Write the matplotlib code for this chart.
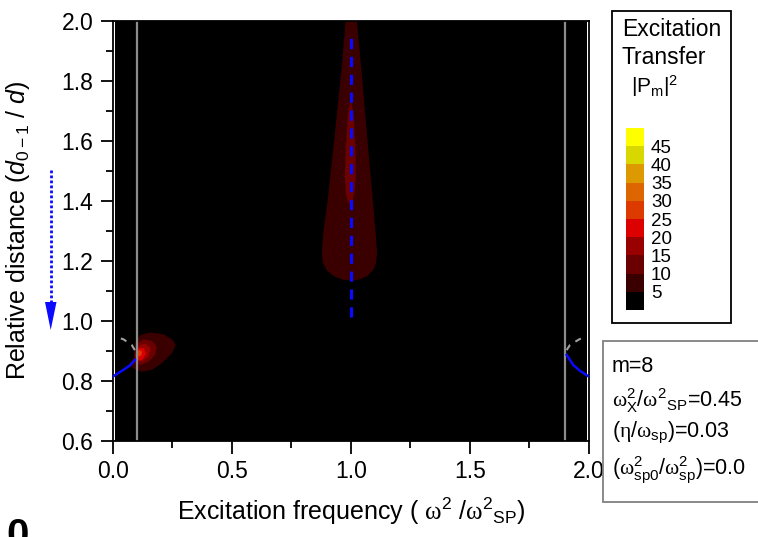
import matplotlib
matplotlib.use("Agg")
import matplotlib.pyplot as plt
import matplotlib.patches as mpatches
from matplotlib.lines import Line2D
from matplotlib.colors import ListedColormap, BoundaryNorm
from matplotlib.cm import ScalarMappable
from matplotlib.ticker import MultipleLocator

plt.rcParams['font.family'] = 'Liberation Sans'
plt.rcParams['mathtext.fontset'] = 'custom'
plt.rcParams['mathtext.rm'] = 'Liberation Sans'
plt.rcParams['mathtext.it'] = 'Liberation Sans:italic'
plt.rcParams['mathtext.bf'] = 'Liberation Sans:bold'
plt.rcParams['mathtext.sf'] = 'Liberation Serif'

# |P_m|^2 contour levels and their colours
levels = [0, 5, 10, 15, 20, 25, 30, 35, 40, 45, 50]
level_colors = ['#000000', '#3a0000', '#6a0000', '#990000', '#dd0000',
                '#dd3a00', '#dd6600', '#dd9900', '#d8d800', '#ffff00']
cbar_ticks = [5, 10, 15, 20, 25, 30, 35, 40, 45]

# tear-drop resonance at w^2/w_sp^2 = 1.0 (level 5-10)
tear_outer_x = [0.978, 0.962, 0.933, 0.903, 0.884, 0.878, 0.882, 0.898, 0.930, 0.965, 1.0,
                1.035, 1.068, 1.095, 1.106, 1.110, 1.104, 1.092, 1.067, 1.043, 1.025]
tear_outer_y = [2.0, 1.847, 1.625, 1.402, 1.292, 1.225, 1.195, 1.168, 1.148, 1.137, 1.133,
                1.137, 1.148, 1.170, 1.195, 1.225, 1.292, 1.402, 1.625, 1.847, 2.0]
# level 10-15
tear_inner_x = [0.999, 0.987, 0.978, 0.975, 0.978, 0.986, 0.995, 1.005, 1.015, 1.021, 1.019, 1.013]
tear_inner_y = [1.741, 1.68, 1.569, 1.48, 1.43, 1.40, 1.389, 1.395, 1.425, 1.48, 1.569, 1.68]

# small resonance near w^2 = 0.1, d = 0.88 (levels 5-10 ... 25-30)
spot1_x = [0.087, 0.094, 0.115, 0.157, 0.213, 0.252, 0.265, 0.248, 0.206, 0.164, 0.122, 0.087, 0.070]
spot1_y = [0.875, 0.925, 0.952, 0.961, 0.955, 0.936, 0.919, 0.891, 0.858, 0.836, 0.830, 0.841, 0.858]
spot2_x = [0.094, 0.101, 0.129, 0.164, 0.185, 0.178, 0.150, 0.115, 0.094]
spot2_y = [0.891, 0.924, 0.938, 0.933, 0.913, 0.886, 0.863, 0.852, 0.863]
spot3_x = [0.098, 0.108, 0.136, 0.160, 0.150, 0.122, 0.101]
spot3_y = [0.891, 0.916, 0.924, 0.908, 0.880, 0.863, 0.869]
spot4_x = [0.096, 0.108, 0.131, 0.140, 0.122, 0.101]
spot4_y = [0.886, 0.908, 0.908, 0.889, 0.869, 0.867]
spot5_x = [0.102, 0.110, 0.123, 0.120, 0.109]
spot5_y = [0.893, 0.902, 0.897, 0.885, 0.880]

# dispersion curves (left and right edges)
left_blue_x = [0.003, 0.045, 0.074, 0.093]
left_blue_y = [0.815, 0.836, 0.852, 0.869]
left_grey_x = [0.093, 0.080, 0.045, 0.019]
left_grey_y = [0.902, 0.919, 0.938, 0.945]
right_blue_x = [1.906, 1.934, 1.962, 1.995]
right_blue_y = [0.886, 0.852, 0.833, 0.816]
right_grey_x = [1.906, 1.920, 1.959, 1.987]
right_grey_y = [0.902, 0.919, 0.938, 0.947]

# vertical guide lines and the resonance line
guide_x = [0.1, 1.9]
res_x = [1.0, 1.0]
res_y = [1.013, 1.963]

W, H = 758, 537


def fx(px):
    return px / W


def fy(py):
    return 1 - py / H


fig = plt.figure(figsize=(W / 100, H / 100), dpi=100)
ax = fig.add_axes([fx(112.7), fy(440.7), 476.3 / W, 420 / H])
ax.set_xlim(0, 2.0)
ax.set_ylim(0.6, 2.0)

ax.axvspan(0.01, 1.99, color='black', lw=0, zorder=0)
ax.fill(tear_outer_x, tear_outer_y, color=level_colors[1], lw=0, zorder=1)
ax.fill(tear_inner_x, tear_inner_y, color=level_colors[2], lw=0, zorder=1)
for sx, sy, lev in [(spot1_x, spot1_y, 1), (spot2_x, spot2_y, 2), (spot3_x, spot3_y, 3),
                    (spot4_x, spot4_y, 4), (spot5_x, spot5_y, 5)]:
    ax.fill(sx, sy, color=level_colors[lev], lw=0, zorder=1)

for gx in guide_x:
    ax.axvline(gx, color='#8c8c8c', lw=1.6, zorder=2)

ax.plot(res_x, res_y, color='#0a0aff', lw=2.3, linestyle=(0, (3.2, 2.4)), zorder=3)
ax.plot(left_blue_x, left_blue_y, color='#0a0aff', lw=1.8, zorder=3)
ax.plot(right_blue_x, right_blue_y, color='#0a0aff', lw=1.8, zorder=3)
ax.plot(left_grey_x, left_grey_y, color='#a0a0a0', lw=1.5, linestyle=(0, (3, 3)), zorder=3)
ax.plot(right_grey_x, right_grey_y, color='#a0a0a0', lw=1.5, linestyle=(0, (3, 3)), zorder=3)

ax.set_xticks([0.0, 0.5, 1.0, 1.5, 2.0])
ax.set_yticks([0.6, 0.8, 1.0, 1.2, 1.4, 1.6, 1.8, 2.0])
ax.xaxis.set_minor_locator(MultipleLocator(0.25))
ax.yaxis.set_minor_locator(MultipleLocator(0.1))
ax.tick_params(which='major', direction='out', length=9, width=1.3, labelsize=16.5, pad=5)
ax.tick_params(which='minor', direction='out', length=5, width=1.3)
for s in ax.spines.values():
    s.set_linewidth(1.3)

ax.set_xlabel(r'Excitation frequency ( $\mathsf{\omega}^{2}$ /$\mathsf{\omega}^{2}{}_{\mathrm{SP}}$)',
              fontsize=18)
ax.xaxis.set_label_coords(0.5, -0.13)
ax.xaxis.label.set_va('top')
ax.set_ylabel(r'Relative distance ($\mathit{d}_{\mathrm{0-1}}$ / $\mathit{d}$)', fontsize=18)
ax.yaxis.set_label_coords(-0.17, 0.5)

# blue dotted arrow left of the axis
fig.add_artist(Line2D([fx(50.7), fx(50.7)], [fy(170), fy(303)], transform=fig.transFigure,
                      color='#0a0aff', lw=2.0, linestyle=(0, (1, 0.8))))
fig.add_artist(mpatches.Polygon([[fx(45), fy(302)], [fx(56.5), fy(302)], [fx(50.7), fy(330)]],
                                closed=True, transform=fig.transFigure, color='#0a0aff', lw=0))

# legend box with colour scale
fig.add_artist(mpatches.Rectangle((fx(612), fy(323)), (731 - 612) / W, (323 - 11) / H,
                                  transform=fig.transFigure, fc='white', ec='black', lw=1.3, zorder=2))
fig.text(fx(622), fy(29), 'Excitation', fontsize=16.5, va='center', zorder=6)
fig.text(fx(622), fy(58), 'Transfer', fontsize=16.5, va='center', zorder=6)
fig.text(fx(631), fy(86), r'|P$_{\mathrm{m}}$|$^{2}$', fontsize=15, va='center', zorder=6)

cax = fig.add_axes([fx(626), fy(310), 18 / W, 182 / H])
cax.set_zorder(4)
cmap = ListedColormap(level_colors)
norm = BoundaryNorm(levels, cmap.N)
cb = fig.colorbar(ScalarMappable(norm=norm, cmap=cmap), cax=cax, ticks=cbar_ticks)
cb.outline.set_visible(False)
cax.minorticks_off()
cax.tick_params(which='both', length=0, labelsize=13.5, pad=5)

# parameter box
fig.add_artist(mpatches.Rectangle((fx(603), fy(502)), (775 - 603) / W, (502 - 341) / H,
                                  transform=fig.transFigure, fc='white', ec='#808080', lw=1.3, zorder=5))
params = ['m=8',
          r'$\mathsf{\omega}^{2}_{\mathrm{X}}$/$\mathsf{\omega}^{2}{}_{\mathrm{SP}}$=0.45',
          r'($\mathsf{\eta}$/$\mathsf{\omega}_{\mathrm{sp}}$)=0.03',
          r'($\mathsf{\omega}^{2}_{\mathrm{sp0}}$/$\mathsf{\omega}^{2}_{\mathrm{sp}}$)=0.0']
for txt, py in zip(params, [367, 401, 433, 470]):
    fig.text(fx(612), fy(py), txt, fontsize=15.5, va='center', zorder=6)

# panel label, cut at the bottom edge as in the original
fig.text(fx(6), fy(517), '0', fontsize=29, fontweight='bold', va='top', zorder=6)

fig.savefig('out.png', dpi=100)
